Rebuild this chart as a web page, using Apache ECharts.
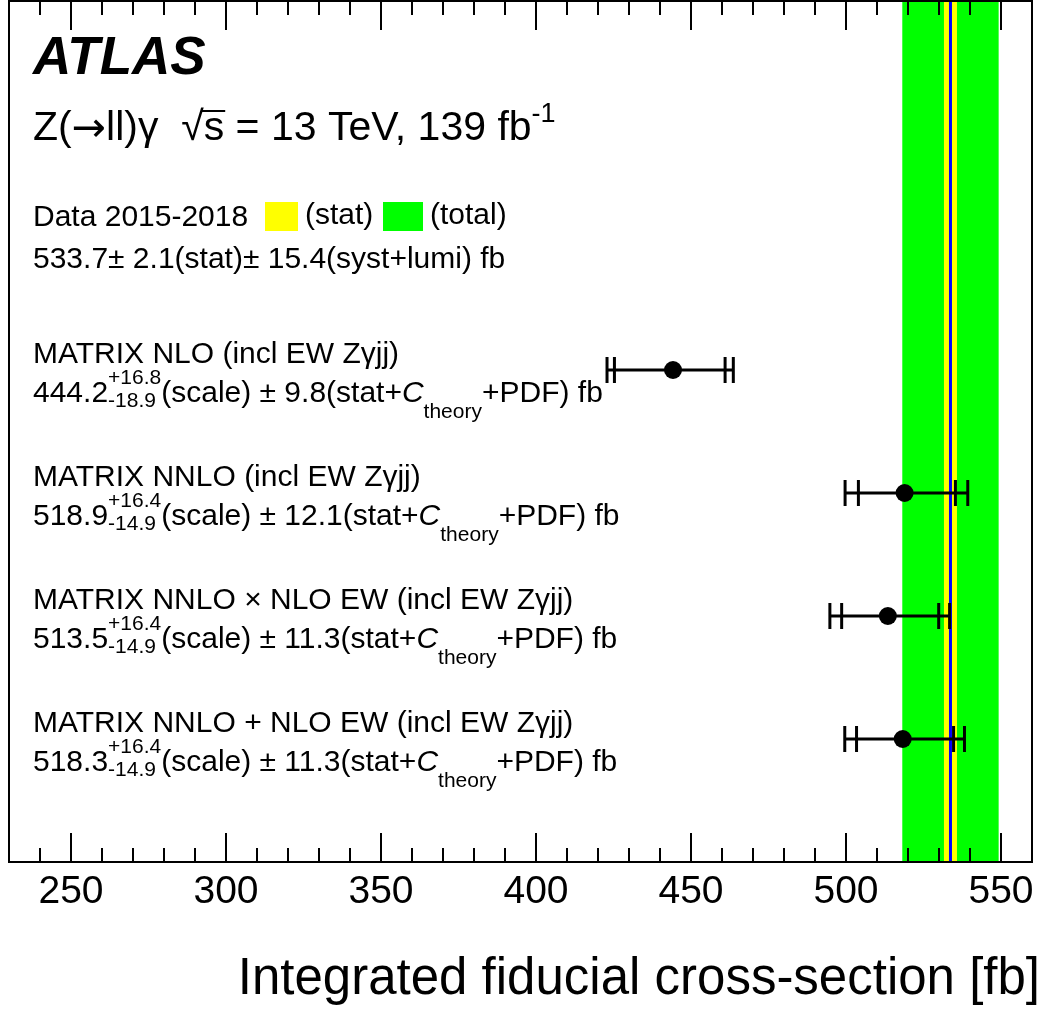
<!DOCTYPE html>
<html>
<head>
<meta charset="utf-8">
<script src="https://cdn.jsdelivr.net/npm/echarts@6/dist/echarts.min.js"></script>
<style>
html, body { margin: 0; padding: 0; background: #fff; }
#main { width: 1047px; height: 1011px; }
</style>
</head>
<body>
<div id="main"></div>
<script>
// predictions, one entry per row (top to bottom)
let rowNames = [
    'MATRIX NLO (incl EW Z\u03b3jj)',
    'MATRIX NNLO (incl EW Z\u03b3jj)',
    'MATRIX NNLO \u00d7 NLO EW (incl EW Z\u03b3jj)',
    'MATRIX NNLO + NLO EW (incl EW Z\u03b3jj)'
];
let rowPos = [3, 4, 5, 6];
let predCentral = [444.2, 518.9, 513.5, 518.3];
let predScaleUp = [16.8, 16.4, 16.4, 16.4];
let predScaleDown = [18.9, 14.9, 14.9, 14.9];
let predOther = [9.8, 12.1, 11.3, 11.3];

// measurement
let dataCentral = 533.7;
let dataStat = 2.1;
let dataSyst = 15.4;

// axis
let xMin = 230, xMax = 560;
let tickValues = [250, 300, 350, 400, 450, 500, 550];

let FONT = '"Liberation Sans", Arial, Helvetica, sans-serif';
let ctx = document.createElement('canvas').getContext('2d');

function fontStr(s) {
    return (s.italic ? 'italic ' : '') + (s.bold ? 'bold ' : '') + s.size + 'px ' + (s.family || FONT);
}
function measure(t, s) {
    ctx.font = fontStr(s);
    return ctx.measureText(t).width;
}
function textEl(t, x, baseline, s) {
    return {
        type: 'text', silent: true, z: 20,
        x: x, y: baseline - 0.35 * s.size,
        style: { text: t, font: fontStr(s), fill: '#000', align: 'left', verticalAlign: 'middle' }
    };
}
// lay out a line of pieces left to right; {sup, sub} pieces are stacked
function layoutLine(pieces, x0, baseline) {
    let els = [];
    let x = x0;
    pieces.forEach(function (p) {
        if (p.sup !== undefined) {
            let s = { size: p.size };
            els.push(textEl(p.sup, x, baseline + p.supDy, s));
            els.push(textEl(p.sub, x, baseline + p.subDy, s));
            x += Math.max(measure(p.sup, s), measure(p.sub, s));
        } else {
            let s = { size: p.size, italic: p.italic, bold: p.bold, family: p.family };
            els.push(textEl(p.t, x, baseline + (p.dy || 0), s));
            x += measure(p.t, s);
        }
    });
    return { els: els, x: x };
}

let chart = echarts.init(document.getElementById('main'));

let errData = [];
for (let i = 0; i < predCentral.length; i++) {
    errData.push([predCentral[i], rowPos[i], predScaleDown[i], predScaleUp[i], predOther[i]]);
}

function minorAxis(pos) {
    return {
        type: 'value', position: pos, min: xMin, max: xMax, interval: 10, z: 5,
        axisLine: { show: false, onZero: false },
        axisTick: { inside: true, length: 14, lineStyle: { color: '#000', width: 2 } },
        axisLabel: { show: false },
        splitLine: { show: false }
    };
}

let option = {
    animation: false,
    backgroundColor: '#fff',
    grid: {
        left: 9, right: 15, top: 1, bottom: 149,
        show: true, borderColor: '#000', borderWidth: 2, backgroundColor: 'transparent'
    },
    xAxis: [
        {
            type: 'value', position: 'bottom', min: xMin, max: xMax, z: 5,
            axisLine: { show: true, onZero: false, lineStyle: { color: '#000', width: 2 } },
            axisTick: { inside: true, length: 29, customValues: tickValues, lineStyle: { color: '#000', width: 2 } },
            axisLabel: {
                customValues: tickValues, margin: 11, color: '#000',
                fontSize: 39, fontFamily: FONT
            },
            splitLine: { show: false },
            name: 'Integrated fiducial cross-section [fb]',
            nameLocation: 'end', nameGap: 8,
            nameTextStyle: {
                fontSize: 51, fontFamily: FONT, color: '#000',
                align: 'right', verticalAlign: 'top', padding: [92, 0, 0, 0]
            }
        },
        minorAxis('bottom'),
        {
            type: 'value', position: 'top', min: xMin, max: xMax, z: 5,
            axisLine: { show: true, onZero: false, lineStyle: { color: '#000', width: 2 } },
            axisTick: { inside: true, length: 29, customValues: tickValues, lineStyle: { color: '#000', width: 2 } },
            axisLabel: { show: false },
            splitLine: { show: false }
        },
        minorAxis('top')
    ],
    yAxis: {
        type: 'value', min: 0, max: 7, inverse: true, show: false
    },
    series: [
        {
            // data band: total (green), stat (yellow), central (blue)
            type: 'custom', z: 1, silent: true,
            data: [[dataCentral, dataStat, dataSyst]],
            encode: { x: 0 },
            renderItem: function (params, api) {
                let cs = params.coordSys;
                let c = api.value(0), st = api.value(1), sy = api.value(2);
                let tot = Math.sqrt(st * st + sy * sy);
                let gx0 = api.coord([c - tot, 0])[0], gx1 = api.coord([c + tot, 0])[0];
                let yx0 = api.coord([c - st, 0])[0], yx1 = api.coord([c + st, 0])[0];
                let cx = api.coord([c, 0])[0];
                return {
                    type: 'group',
                    children: [
                        { type: 'rect', shape: { x: gx0, y: cs.y, width: gx1 - gx0, height: cs.height }, style: { fill: '#00ff00' } },
                        { type: 'rect', shape: { x: yx0, y: cs.y, width: yx1 - yx0, height: cs.height }, style: { fill: '#ffff00' } },
                        { type: 'line', shape: { x1: cx, y1: cs.y, x2: cx, y2: cs.y + cs.height }, style: { stroke: '#0000ff', lineWidth: 3 } }
                    ]
                };
            }
        },
        {
            // predictions: inner caps = scale, outer caps = total
            type: 'custom', z: 3, silent: true,
            data: errData,
            encode: { x: 0, y: 1 },
            renderItem: function (params, api) {
                let c = api.value(0), r = api.value(1);
                let dn = api.value(2), up = api.value(3), o = api.value(4);
                let p = api.coord([c, r]);
                let xs = [
                    api.coord([c - Math.sqrt(dn * dn + o * o), r])[0],
                    api.coord([c - dn, r])[0],
                    api.coord([c + up, r])[0],
                    api.coord([c + Math.sqrt(up * up + o * o), r])[0]
                ];
                let st = { stroke: '#000', lineWidth: 3 };
                let kids = [
                    { type: 'line', shape: { x1: xs[0], y1: p[1], x2: xs[3], y2: p[1] }, style: st }
                ];
                xs.forEach(function (x) {
                    kids.push({ type: 'line', shape: { x1: x, y1: p[1] - 13, x2: x, y2: p[1] + 13 }, style: st });
                });
                kids.push({ type: 'circle', shape: { cx: p[0], cy: p[1], r: 9 }, style: { fill: '#000' } });
                return { type: 'group', children: kids };
            }
        }
    ]
};

chart.setOption(option);

// ---- texts ----
let txt = [];
let X0 = 33;
let S = 30, SS = 21;

txt = txt.concat(layoutLine([{ t: 'ATLAS', size: 53, bold: true, italic: true }], X0, 78).els);

let t1 = layoutLine([
    { t: 'Z(', size: 41 },
    { t: '\u2192', size: 41, family: '"DejaVu Sans", sans-serif', dy: 2 },
    { t: 'll)\u03b3  ', size: 41 }
], X0, 143);
txt = txt.concat(t1.els);
let sqrtX = t1.x;
let t2 = layoutLine([
    { t: '\u221as = 13 TeV, 139 fb', size: 41 },
    { t: '-1', size: 27, dy: -19 }
], sqrtX, 143);
txt = txt.concat(t2.els);
let wRad = measure('\u221a', { size: 41 });
let wRadS = measure('\u221as', { size: 41 });
txt.push({
    type: 'line', silent: true, z: 20,
    shape: { x1: sqrtX + wRad - 2, y1: 143 - 32, x2: sqrtX + wRadS + 1, y2: 143 - 32 },
    style: { stroke: '#000', lineWidth: 2 }
});

let d1 = layoutLine([{ t: 'Data 2015-2018', size: S }], X0, 228);
txt = txt.concat(d1.els);
txt.push({ type: 'rect', silent: true, z: 20, shape: { x: 265, y: 202, width: 33, height: 29 }, style: { fill: '#ffff00' } });
txt = txt.concat(layoutLine([{ t: '(stat)', size: S }], 305, 226).els);
txt.push({ type: 'rect', silent: true, z: 20, shape: { x: 383, y: 202, width: 40, height: 29 }, style: { fill: '#00ff00' } });
txt = txt.concat(layoutLine([{ t: '(total)', size: S }], 430, 226).els);
txt = txt.concat(layoutLine([
    { t: dataCentral.toFixed(1) + '\u00b1 ', size: S },
    { t: dataStat.toFixed(1) + '(stat)\u00b1 ', size: S },
    { t: dataSyst.toFixed(1) + '(syst+lumi) fb', size: S }
], X0, 270).els);

for (let i = 0; i < rowNames.length; i++) {
    let py = chart.convertToPixel({ yAxisIndex: 0 }, rowPos[i]);
    let b1 = py - 5, b2 = py + 34;
    txt = txt.concat(layoutLine([{ t: rowNames[i], size: S }], X0, b1).els);
    txt = txt.concat(layoutLine([
        { t: predCentral[i].toFixed(1), size: S },
        { sup: '+' + predScaleUp[i].toFixed(1), sub: '-' + predScaleDown[i].toFixed(1), size: SS, supDy: -18, subDy: 5 },
        { t: '(scale) \u00b1 ' + predOther[i].toFixed(1) + '(stat+', size: S },
        { t: 'C', size: S, italic: true },
        { t: 'theory', size: SS, dy: 16 },
        { t: '+PDF) fb', size: S }
    ], X0, b2).els);
}

chart.setOption({ graphic: { elements: txt } });
</script>
</body>
</html>
